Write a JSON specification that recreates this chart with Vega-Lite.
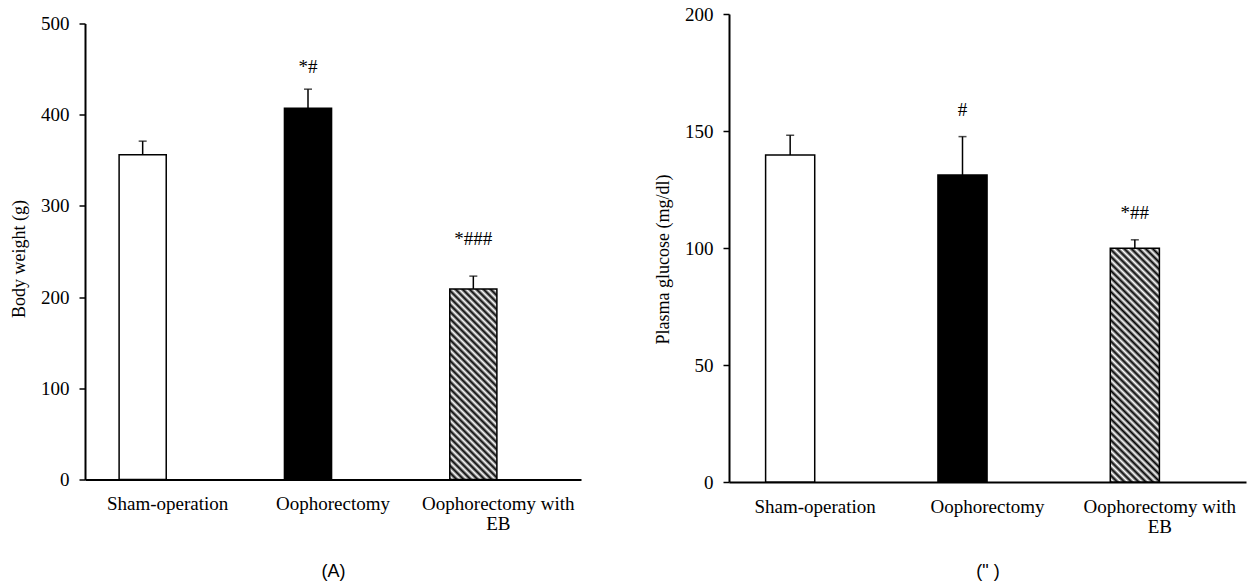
{
  "$schema": "https://vega.github.io/schema/vega-lite/v6.json",
  "background": "white",
  "padding": {"left": 10, "top": 5, "right": 5, "bottom": 5},
  "spacing": 73,
  "center": true,
  "config": {
    "font": "Liberation Serif",
    "view": {"stroke": null},
    "axis": {
      "grid": false,
      "domainColor": "black",
      "domainWidth": 2,
      "tickColor": "black",
      "tickWidth": 1.5,
      "labelColor": "black",
      "labelFont": "Liberation Serif",
      "labelFontSize": 19,
      "titleFont": "Liberation Serif",
      "titleFontSize": 18,
      "titleFontWeight": "normal",
      "titleColor": "black"
    }
  },
  "hconcat": [
    {
      "width": 496,
      "height": 456,
      "title": {"text": " ", "fontSize": 8, "offset": 1},
      "data": {"values": [
        {"group": "Sham-operation", "value": 356, "upper": 371, "sig": ""},
        {"group": "Oophorectomy", "value": 407, "upper": 428, "sig": "*#"},
        {"group": "Oophorectomy with EB", "value": 209, "upper": 223, "sig": "*###"}
      ]},
      "encoding": {
        "x": {
          "field": "group", "type": "nominal", "sort": null,
          "scale": {"paddingInner": 0, "paddingOuter": 0},
          "axis": {
            "title": "(A)", "titleFont": "Liberation Sans", "titleFontSize": 18, "titlePadding": 29,
            "labelAngle": 0, "ticks": false, "tickSize": 0, "labelPadding": 15, "labelLimit": 300, "labelLineHeight": 20,
            "labelExpr": "datum.label == 'Oophorectomy with EB' ? ['Oophorectomy with', 'EB'] : datum.label"
          }
        }
      },
      "layer": [
        {
          "mark": {"type": "bar", "width": {"band": 0.285}, "xOffset": -25, "stroke": "black", "strokeWidth": 1.5},
          "encoding": {
            "y": {"field": "value", "type": "quantitative", "title": "Body weight (g)",
              "scale": {"domain": [0, 500], "nice": false},
              "axis": {"values": [0, 100, 200, 300, 400, 500], "tickSize": 6, "labelPadding": 10, "titlePadding": 12, "titleY": 235}},
            "fill": {
              "condition": [
                {"test": "datum.group === 'Sham-operation'", "value": "white"},
                {"test": "datum.group === 'Oophorectomy'", "value": "black"}
              ],
              "value": {"gradient": "linear", "x1": 0, "y1": 1, "x2": 0.291, "y2": -0.177, "stops": [
                {"offset": 0, "color": "#000"}, {"offset": 0.0147, "color": "#fff"}, {"offset": 0.0294, "color": "#000"}, {"offset": 0.0441, "color": "#fff"},
                {"offset": 0.0588, "color": "#000"}, {"offset": 0.0735, "color": "#fff"}, {"offset": 0.0882, "color": "#000"}, {"offset": 0.1029, "color": "#fff"},
                {"offset": 0.1176, "color": "#000"}, {"offset": 0.1324, "color": "#fff"}, {"offset": 0.1471, "color": "#000"}, {"offset": 0.1618, "color": "#fff"},
                {"offset": 0.1765, "color": "#000"}, {"offset": 0.1912, "color": "#fff"}, {"offset": 0.2059, "color": "#000"}, {"offset": 0.2206, "color": "#fff"},
                {"offset": 0.2353, "color": "#000"}, {"offset": 0.25, "color": "#fff"}, {"offset": 0.2647, "color": "#000"}, {"offset": 0.2794, "color": "#fff"},
                {"offset": 0.2941, "color": "#000"}, {"offset": 0.3088, "color": "#fff"}, {"offset": 0.3235, "color": "#000"}, {"offset": 0.3382, "color": "#fff"},
                {"offset": 0.3529, "color": "#000"}, {"offset": 0.3676, "color": "#fff"}, {"offset": 0.3824, "color": "#000"}, {"offset": 0.3971, "color": "#fff"},
                {"offset": 0.4118, "color": "#000"}, {"offset": 0.4265, "color": "#fff"}, {"offset": 0.4412, "color": "#000"}, {"offset": 0.4559, "color": "#fff"},
                {"offset": 0.4706, "color": "#000"}, {"offset": 0.4853, "color": "#fff"}, {"offset": 0.5, "color": "#000"}, {"offset": 0.5147, "color": "#fff"},
                {"offset": 0.5294, "color": "#000"}, {"offset": 0.5441, "color": "#fff"}, {"offset": 0.5588, "color": "#000"}, {"offset": 0.5735, "color": "#fff"},
                {"offset": 0.5882, "color": "#000"}, {"offset": 0.6029, "color": "#fff"}, {"offset": 0.6176, "color": "#000"}, {"offset": 0.6324, "color": "#fff"},
                {"offset": 0.6471, "color": "#000"}, {"offset": 0.6618, "color": "#fff"}, {"offset": 0.6765, "color": "#000"}, {"offset": 0.6912, "color": "#fff"},
                {"offset": 0.7059, "color": "#000"}, {"offset": 0.7206, "color": "#fff"}, {"offset": 0.7353, "color": "#000"}, {"offset": 0.75, "color": "#fff"},
                {"offset": 0.7647, "color": "#000"}, {"offset": 0.7794, "color": "#fff"}, {"offset": 0.7941, "color": "#000"}, {"offset": 0.8088, "color": "#fff"},
                {"offset": 0.8235, "color": "#000"}, {"offset": 0.8382, "color": "#fff"}, {"offset": 0.8529, "color": "#000"}, {"offset": 0.8676, "color": "#fff"},
                {"offset": 0.8824, "color": "#000"}, {"offset": 0.8971, "color": "#fff"}, {"offset": 0.9118, "color": "#000"}, {"offset": 0.9265, "color": "#fff"},
                {"offset": 0.9412, "color": "#000"}, {"offset": 0.9559, "color": "#fff"}, {"offset": 0.9706, "color": "#000"}, {"offset": 0.9853, "color": "#fff"},
                {"offset": 1, "color": "#000"}
              ]}
            }
          }
        },
        {
          "mark": {"type": "rule", "xOffset": -25, "strokeWidth": 1.5, "color": "black"},
          "encoding": {
            "y": {"field": "value", "type": "quantitative", "title": "Body weight (g)"},
            "y2": {"field": "upper"}
          }
        },
        {
          "mark": {"type": "tick", "xOffset": -25, "size": 8, "thickness": 1.5, "color": "black"},
          "encoding": {"y": {"field": "upper", "type": "quantitative", "title": "Body weight (g)"}}
        },
        {
          "transform": [{"filter": "datum.group === 'Oophorectomy'"}],
          "mark": {"type": "text", "xOffset": -25, "dy": -22, "baseline": "middle", "fontSize": 19, "font": "Liberation Serif", "color": "black"},
          "encoding": {"y": {"field": "upper", "type": "quantitative", "title": "Body weight (g)"}, "text": {"field": "sig"}}
        },
        {
          "transform": [{"filter": "datum.group === 'Oophorectomy with EB'"}],
          "mark": {"type": "text", "xOffset": -25, "dy": -37, "baseline": "middle", "fontSize": 19, "font": "Liberation Serif", "color": "black"},
          "encoding": {"y": {"field": "upper", "type": "quantitative", "title": "Body weight (g)"}, "text": {"field": "sig"}}
        }
      ]
    },
    {
      "width": 517,
      "height": 468,
      "data": {"values": [
        {"group": "Sham-operation", "value": 139.7, "upper": 148.2, "sig": ""},
        {"group": "Oophorectomy", "value": 131.2, "upper": 147.6, "sig": "#"},
        {"group": "Oophorectomy with EB", "value": 99.9, "upper": 103.5, "sig": "*##"}
      ]},
      "encoding": {
        "x": {
          "field": "group", "type": "nominal", "sort": null,
          "scale": {"paddingInner": 0, "paddingOuter": 0},
          "axis": {
            "title": ["(\" )", " "], "titleFont": "Liberation Sans", "titleFontSize": 18, "titleLineHeight": 10, "titlePadding": 26,
            "labelAngle": 0, "ticks": false, "tickSize": 0, "labelPadding": 15, "labelLimit": 300, "labelLineHeight": 20,
            "labelExpr": "datum.label == 'Oophorectomy with EB' ? ['Oophorectomy with', 'EB'] : datum.label"
          }
        }
      },
      "layer": [
        {
          "mark": {"type": "bar", "width": {"band": 0.285}, "xOffset": -25, "stroke": "black", "strokeWidth": 1.5},
          "encoding": {
            "y": {"field": "value", "type": "quantitative", "title": "Plasma glucose (mg/dl)",
              "scale": {"domain": [0, 200], "nice": false},
              "axis": {"values": [0, 50, 100, 150, 200], "tickSize": 6, "labelPadding": 10, "titlePadding": 12, "titleY": 245}},
            "fill": {
              "condition": [
                {"test": "datum.group === 'Sham-operation'", "value": "white"},
                {"test": "datum.group === 'Oophorectomy'", "value": "black"}
              ],
              "value": {"gradient": "linear", "x1": 0, "y1": 1, "x2": 0.242, "y2": -0.158, "stops": [
                {"offset": 0, "color": "#000"}, {"offset": 0.0125, "color": "#fff"}, {"offset": 0.025, "color": "#000"}, {"offset": 0.0375, "color": "#fff"},
                {"offset": 0.05, "color": "#000"}, {"offset": 0.0625, "color": "#fff"}, {"offset": 0.075, "color": "#000"}, {"offset": 0.0875, "color": "#fff"},
                {"offset": 0.1, "color": "#000"}, {"offset": 0.1125, "color": "#fff"}, {"offset": 0.125, "color": "#000"}, {"offset": 0.1375, "color": "#fff"},
                {"offset": 0.15, "color": "#000"}, {"offset": 0.1625, "color": "#fff"}, {"offset": 0.175, "color": "#000"}, {"offset": 0.1875, "color": "#fff"},
                {"offset": 0.2, "color": "#000"}, {"offset": 0.2125, "color": "#fff"}, {"offset": 0.225, "color": "#000"}, {"offset": 0.2375, "color": "#fff"},
                {"offset": 0.25, "color": "#000"}, {"offset": 0.2625, "color": "#fff"}, {"offset": 0.275, "color": "#000"}, {"offset": 0.2875, "color": "#fff"},
                {"offset": 0.3, "color": "#000"}, {"offset": 0.3125, "color": "#fff"}, {"offset": 0.325, "color": "#000"}, {"offset": 0.3375, "color": "#fff"},
                {"offset": 0.35, "color": "#000"}, {"offset": 0.3625, "color": "#fff"}, {"offset": 0.375, "color": "#000"}, {"offset": 0.3875, "color": "#fff"},
                {"offset": 0.4, "color": "#000"}, {"offset": 0.4125, "color": "#fff"}, {"offset": 0.425, "color": "#000"}, {"offset": 0.4375, "color": "#fff"},
                {"offset": 0.45, "color": "#000"}, {"offset": 0.4625, "color": "#fff"}, {"offset": 0.475, "color": "#000"}, {"offset": 0.4875, "color": "#fff"},
                {"offset": 0.5, "color": "#000"}, {"offset": 0.5125, "color": "#fff"}, {"offset": 0.525, "color": "#000"}, {"offset": 0.5375, "color": "#fff"},
                {"offset": 0.55, "color": "#000"}, {"offset": 0.5625, "color": "#fff"}, {"offset": 0.575, "color": "#000"}, {"offset": 0.5875, "color": "#fff"},
                {"offset": 0.6, "color": "#000"}, {"offset": 0.6125, "color": "#fff"}, {"offset": 0.625, "color": "#000"}, {"offset": 0.6375, "color": "#fff"},
                {"offset": 0.65, "color": "#000"}, {"offset": 0.6625, "color": "#fff"}, {"offset": 0.675, "color": "#000"}, {"offset": 0.6875, "color": "#fff"},
                {"offset": 0.7, "color": "#000"}, {"offset": 0.7125, "color": "#fff"}, {"offset": 0.725, "color": "#000"}, {"offset": 0.7375, "color": "#fff"},
                {"offset": 0.75, "color": "#000"}, {"offset": 0.7625, "color": "#fff"}, {"offset": 0.775, "color": "#000"}, {"offset": 0.7875, "color": "#fff"},
                {"offset": 0.8, "color": "#000"}, {"offset": 0.8125, "color": "#fff"}, {"offset": 0.825, "color": "#000"}, {"offset": 0.8375, "color": "#fff"},
                {"offset": 0.85, "color": "#000"}, {"offset": 0.8625, "color": "#fff"}, {"offset": 0.875, "color": "#000"}, {"offset": 0.8875, "color": "#fff"},
                {"offset": 0.9, "color": "#000"}, {"offset": 0.9125, "color": "#fff"}, {"offset": 0.925, "color": "#000"}, {"offset": 0.9375, "color": "#fff"},
                {"offset": 0.95, "color": "#000"}, {"offset": 0.9625, "color": "#fff"}, {"offset": 0.975, "color": "#000"}, {"offset": 0.9875, "color": "#fff"},
                {"offset": 1, "color": "#000"}
              ]}
            }
          }
        },
        {
          "mark": {"type": "rule", "xOffset": -25, "strokeWidth": 1.5, "color": "black"},
          "encoding": {
            "y": {"field": "value", "type": "quantitative", "title": "Plasma glucose (mg/dl)"},
            "y2": {"field": "upper"}
          }
        },
        {
          "mark": {"type": "tick", "xOffset": -25, "size": 8, "thickness": 1.5, "color": "black"},
          "encoding": {"y": {"field": "upper", "type": "quantitative", "title": "Plasma glucose (mg/dl)"}}
        },
        {
          "transform": [{"filter": "datum.sig !== ''"}],
          "mark": {"type": "text", "xOffset": -25, "dy": -27, "baseline": "middle", "fontSize": 19, "font": "Liberation Serif", "color": "black"},
          "encoding": {"y": {"field": "upper", "type": "quantitative", "title": "Plasma glucose (mg/dl)"}, "text": {"field": "sig"}}
        }
      ]
    }
  ]
}
